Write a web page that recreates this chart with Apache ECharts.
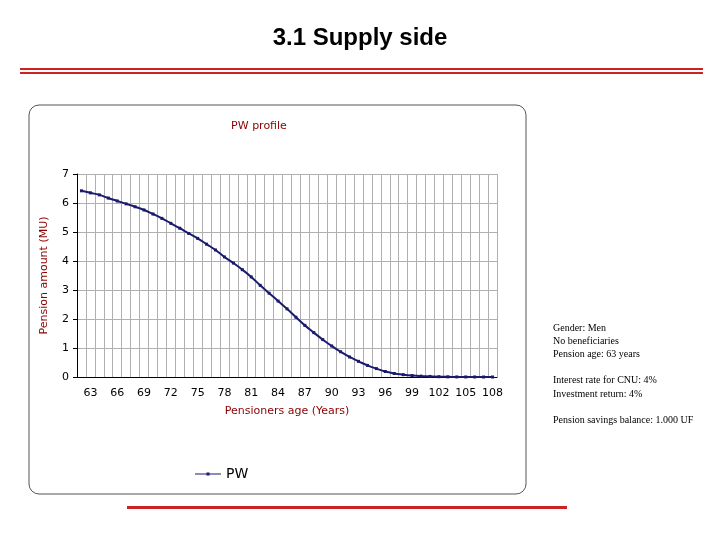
<!DOCTYPE html>
<html><head><meta charset="utf-8">
<script src="https://cdn.jsdelivr.net/npm/echarts@6/dist/echarts.min.js"></script>
<style>html,body{margin:0;background:#fff}#c{width:720px;height:540px}</style>
</head><body><div id="c"></div>
<script>
var ages = [];
for (var a = 62; a <= 108; a++) ages.push(String(a));
var pw = [6.42, 6.35, 6.28, 6.17, 6.07, 5.97, 5.87, 5.76, 5.62, 5.47, 5.30, 5.13, 4.95, 4.78, 4.58, 4.38,
  4.14, 3.93, 3.70, 3.45, 3.16, 2.89, 2.62, 2.35, 2.06, 1.78, 1.53, 1.29, 1.07, 0.87, 0.69, 0.54, 0.40,
  0.29, 0.19, 0.12, 0.08, 0.05, 0.03, 0.02, 0.01, 0.005, 0.003, 0.002, 0.001, 0, 0];
var notes = ['Gender: Men', 'No beneficiaries', 'Pension age: 63 years', '',
  'Interest rate for CNU: 4%', 'Investment return: 4%', '', 'Pension savings balance: 1.000 UF'];

var myChart = echarts.init(document.getElementById('c'));
var red = '#cc2222', dark = '#8b0000';
var g = [
  {type: 'text', left: 'center', top: 26, style: {text: '3.1 Supply side', font: 'bold 24px Liberation Sans', fill: '#000'}},
  {type: 'rect', shape: {x: 20, y: 68, width: 683, height: 2}, style: {fill: red}},
  {type: 'rect', shape: {x: 20, y: 72, width: 683, height: 2}, style: {fill: red}},
  {type: 'rect', shape: {x: 127, y: 506, width: 440, height: 3}, style: {fill: red}},
  {type: 'rect', z: -1, shape: {x: 29, y: 105, width: 497, height: 389, r: 10}, style: {fill: '#fff', stroke: '#555', lineWidth: 1}}
];
notes.forEach(function (t, i) {
  g.push({type: 'text', left: 553, top: 323 + i * 13.2, style: {text: t, font: '10px Liberation Serif', fill: '#000'}});
});

myChart.setOption({
  animation: false,
  title: {text: 'PW profile', left: 254, textAlign: 'center', top: 116, textStyle: {color: dark, fontSize: 11, fontWeight: 'normal', fontFamily: 'DejaVu Sans'}},
  legend: {left: 190, top: 462, data: [{name: 'PW', icon: 'path://M0,4.4H26V5.6H0Z M11.5,3.5H14.5V6.5H11.5Z'}],
    itemWidth: 26, itemHeight: 10, textStyle: {fontSize: 14, color: '#000', fontFamily: 'DejaVu Sans'}},
  grid: {left: 77, top: 174, right: 223, bottom: 163},
  xAxis: {
    type: 'category', data: ages, boundaryGap: true,
    name: 'Pensioners age (Years)', nameLocation: 'middle', nameGap: 29,
    nameTextStyle: {color: dark, fontSize: 11, fontFamily: 'DejaVu Sans'},
    axisLine: {lineStyle: {color: '#000'}},
    axisTick: {show: false},
    axisLabel: {color: '#000', fontSize: 11, fontFamily: 'DejaVu Sans', margin: 11,
      interval: function (i) { return (i - 1) % 3 === 0; }},
    splitLine: {show: true, interval: 0, lineStyle: {color: '#b0b0b0'}}
  },
  yAxis: {
    type: 'value', min: 0, max: 7, interval: 1,
    name: 'Pension amount (MU)', nameLocation: 'middle', nameGap: 27,
    nameTextStyle: {color: dark, fontSize: 11, fontFamily: 'DejaVu Sans'},
    axisLine: {show: true, lineStyle: {color: '#000'}},
    axisTick: {show: true, length: 4},
    axisLabel: {color: '#000', fontSize: 11, fontFamily: 'DejaVu Sans', margin: 8},
    splitLine: {lineStyle: {color: '#b0b0b0'}}
  },
  series: [{
    name: 'PW', type: 'line', data: pw, smooth: true,
    symbol: 'rect', symbolSize: 3,
    lineStyle: {color: '#1a1a6e', width: 2}, itemStyle: {color: '#1a1a6e'}
  }],
  graphic: g
});
</script></body></html>
